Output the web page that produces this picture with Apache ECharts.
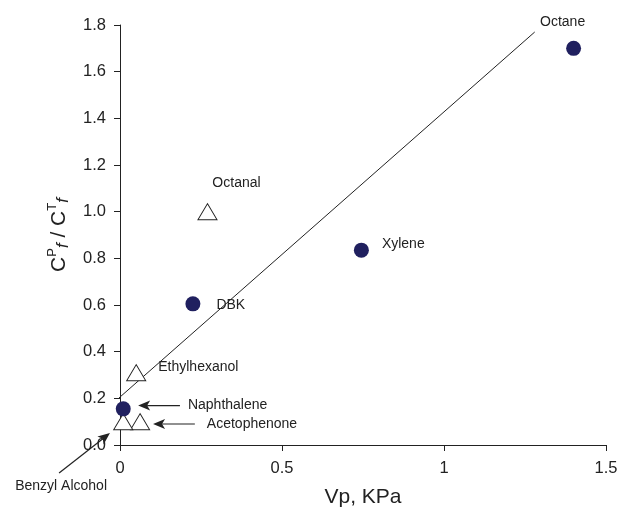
<!DOCTYPE html>
<html>
<head>
<meta charset="utf-8">
<script src="https://cdn.jsdelivr.net/npm/echarts@6/dist/echarts.min.js"></script>
<style>
html,body{margin:0;padding:0;background:#fff;}
#chart{width:620px;height:509px;}
</style>
</head>
<body>
<div id="chart"></div>
<script>
// ---- data ----
var filledNames = ['Octane', 'Xylene', 'DBK', 'Naphthalene'];
var filledX = [1.40, 0.745, 0.225, 0.01];
var filledY = [1.70, 0.835, 0.605, 0.155];

var openNames = ['Octanal', 'Ethylhexanol', 'Acetophenone', 'Benzyl Alcohol'];
var openX = [0.27, 0.05, 0.062, 0.01];
var openY = [1.00, 0.31, 0.10, 0.10];

var fitX = [-0.16, 1.28];
var fitY = [0.01, 1.77];

var arrowNames = ['Naphthalene', 'Acetophenone', 'Benzyl Alcohol'];
var arrowFromX = [0.185, 0.231, -0.188];
var arrowFromY = [0.169, 0.090, -0.120];
var arrowToX = [0.056, 0.102, -0.031];
var arrowToY = [0.169, 0.090, 0.051];

var xTicks = [0, 0.5, 1, 1.5];
var yTicks = [0, 0.2, 0.4, 0.6, 0.8, 1.0, 1.2, 1.4, 1.6, 1.8];

// ---- label styles (layout only) ----
var pointLabelStyle = {
  'Octane': {position: 'top', offset: [-11, -7]},
  'Xylene': {position: 'right', distance: 13, offset: [0, -6]},
  'DBK': {position: 'right', distance: 16, offset: [0, 1]},
  'Octanal': {position: 'top', offset: [29, -8]},
  'Ethylhexanol': {position: 'right', distance: 12, offset: [0, -6]},
  'Naphthalene': {show: false},
  'Acetophenone': {show: false},
  'Benzyl Alcohol': {show: false}
};
var arrowTextStyle = {
  'Naphthalene': {dx: 8, dy: 0, align: 'left', vAlign: 'middle'},
  'Acetophenone': {dx: 12, dy: 0, align: 'left', vAlign: 'middle'},
  'Benzyl Alcohol': {dx: 2, dy: 6, align: 'center', vAlign: 'top'}
};

var FONT = 'Liberation Sans, Arial, Helvetica, sans-serif';
var INK = '#222';

function buildItems(names, xs, ys) {
  return names.map(function (n, i) {
    var ls = pointLabelStyle[n] || {};
    var label = {
      show: ls.show !== false,
      formatter: n,
      position: ls.position || 'right',
      distance: ls.distance != null ? ls.distance : 5,
      offset: ls.offset || [0, 0],
      color: INK,
      opacity: 1,
      fontSize: 14,
      fontFamily: FONT
    };
    return {name: n, value: [xs[i], ys[i]], label: label};
  });
}

var chart = echarts.init(document.getElementById('chart'), null, {renderer: 'canvas'});

var option = {
  backgroundColor: '#fff',
  animation: false,
  grid: {left: 120, right: 14, top: 25, bottom: 64, containLabel: false, outerBoundsMode: 'none'},
  xAxis: {
    type: 'value',
    min: xTicks[0], max: xTicks[xTicks.length - 1], interval: 0.5,
    splitLine: {show: false},
    axisLine: {onZero: false, lineStyle: {color: INK, width: 1}},
    axisTick: {show: true, length: 6, lineStyle: {color: INK}},
    axisLabel: {color: INK, fontSize: 16.5, fontFamily: FONT, margin: 15,
      formatter: function (v) { return String(v); }},
    name: 'Vp, KPa',
    nameLocation: 'middle',
    nameGap: 42,
    nameTextStyle: {color: INK, fontSize: 21, fontFamily: FONT}
  },
  yAxis: {
    type: 'value',
    min: yTicks[0], max: yTicks[yTicks.length - 1], interval: 0.2,
    splitLine: {show: false},
    axisLine: {onZero: false, lineStyle: {color: INK, width: 1}},
    axisTick: {show: true, length: 6, lineStyle: {color: INK}},
    axisLabel: {color: INK, fontSize: 16.5, fontFamily: FONT, margin: 14,
      formatter: function (v) { return v.toFixed(1); }},
    name: '{a|C}{sup|P}{sub|f}{a| / C}{sup|T}{sub|f}',
    nameLocation: 'middle',
    nameRotate: 90,
    nameGap: 46,
    nameTextStyle: {
      color: INK, fontFamily: FONT,
      rich: {
        a: {fontSize: 21, fontFamily: FONT, color: INK, verticalAlign: 'middle', lineHeight: 26},
        sup: {fontSize: 13, fontFamily: FONT, color: INK, verticalAlign: 'top', lineHeight: 26},
        sub: {fontSize: 17, fontStyle: 'italic', fontFamily: FONT, color: INK, verticalAlign: 'bottom', lineHeight: 24}
      }
    }
  },
  series: [
    {
      type: 'line',
      data: fitX.map(function (x, i) { return [x, fitY[i]]; }),
      symbol: 'none',
      clip: false,
      silent: true,
      lineStyle: {color: INK, width: 1},
      z: 1
    },
    {
      type: 'scatter',
      data: buildItems(openNames, openX, openY),
      symbol: 'triangle',
      symbolSize: [19, 16],
      itemStyle: {color: '#fff', borderColor: INK, borderWidth: 1, opacity: 1},
      z: 3
    },
    {
      type: 'scatter',
      data: buildItems(filledNames, filledX, filledY),
      symbol: 'circle',
      symbolSize: 15,
      itemStyle: {color: '#20205f', opacity: 1},
      z: 4
    },
    {
      type: 'custom',
      clip: false,
      silent: true,
      z: 5,
      data: arrowNames.map(function (n, i) {
        return [arrowFromX[i], arrowFromY[i], arrowToX[i], arrowToY[i]];
      }),
      renderItem: function (params, api) {
        var i = params.dataIndex;
        var n = arrowNames[i];
        var p1 = api.coord([api.value(0), api.value(1)]);
        var p2 = api.coord([api.value(2), api.value(3)]);
        var dx = p2[0] - p1[0], dy = p2[1] - p1[1];
        var len = Math.sqrt(dx * dx + dy * dy);
        var ux = dx / len, uy = dy / len;
        var hl = 12, hw = 5;
        var bx = p2[0] - ux * hl, by = p2[1] - uy * hl;
        var st = arrowTextStyle[n];
        return {
          type: 'group',
          children: [
            {type: 'line', shape: {x1: p1[0], y1: p1[1], x2: bx + ux * 3, y2: by + uy * 3},
              style: {stroke: INK, lineWidth: 1.2}},
            {type: 'polygon', shape: {points: [
              [p2[0], p2[1]],
              [bx - uy * hw, by + ux * hw],
              [bx + ux * 3, by + uy * 3],
              [bx + uy * hw, by - ux * hw]
            ]}, style: {fill: INK}},
            {type: 'text', x: p1[0] + st.dx, y: p1[1] + st.dy,
              style: {text: n, fill: INK, font: '14px ' + FONT,
                align: st.align, verticalAlign: st.vAlign}}
          ]
        };
      }
    }
  ]
};
chart.setOption(option);
</script>
</body>
</html>
